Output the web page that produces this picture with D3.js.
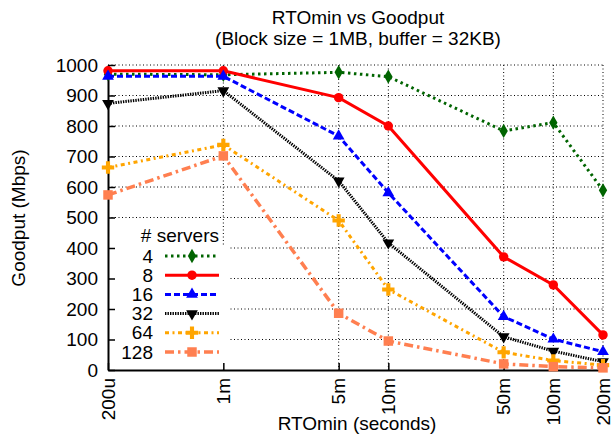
<!DOCTYPE html>
<html>
<head>
<meta charset="utf-8">
<script src="https://d3js.org/d3.v7.min.js"></script>
<style>
  body { margin: 0; background: #fff; }
  text { font-family: "Liberation Sans", Arial, Helvetica, sans-serif; fill: #000; }
</style>
</head>
<body>
<script>
// data
const xLabels = ["200u", "1m", "5m", "10m", "50m", "100m", "200m"];
const xValues = [0.0002, 0.001, 0.005, 0.01, 0.05, 0.1, 0.2];
const yTicks = [0, 100, 200, 300, 400, 500, 600, 700, 800, 900, 1000];
const serverLabels = ["4", "8", "16", "32", "64", "128"];

const goodput4 = [970, 968, 976, 962, 784, 811, 589];
const goodput8 = [981, 981, 893, 800, 371, 279, 115];
const goodput16 = [963, 963, 767, 581, 175, 101, 60];
const goodput32 = [874, 916, 620, 417, 109, 62, 27];
const goodput64 = [664, 738, 490, 264, 58, 31, 16];
const goodput128 = [574, 702, 186, 95, 20, 11, 7];

// globals
let width = 613;
let height = 434;
let mLeft = 108, mRight = 603, mTop = 65, mBottom = 370;
let fs = 19;

let series = [
  { name: serverLabels[0], values: goodput4, color: "#006400", dash: "2.5,3.5", sw: 3, shape: d3.symbolDiamond, size: 60, rot: 0 },
  { name: serverLabels[1], values: goodput8, color: "#ff0000", dash: null, sw: 3, shape: d3.symbolCircle, size: 70, rot: 0 },
  { name: serverLabels[2], values: goodput16, color: "#0000ff", dash: "6,3", sw: 3, shape: d3.symbolTriangle, size: 60, rot: 0 },
  { name: serverLabels[3], values: goodput32, color: "#000000", dash: "1.4,1.1", sw: 3, shape: d3.symbolTriangle, size: 60, rot: 180 },
  { name: serverLabels[4], values: goodput64, color: "#ffa500", dash: "4,3.5,2,3.5", sw: 3, shape: d3.symbolCross, size: 85, rot: 0 },
  { name: serverLabels[5], values: goodput128, color: "#ff7f50", dash: "9,4,2.5,4", sw: 3.5, shape: d3.symbolSquare, size: 90, rot: 0 }
];

let x = d3.scaleLog().domain([0.0002, 0.2]).range([mLeft, mRight]);
let y = d3.scaleLinear().domain([0, 1000]).range([mBottom, mTop]);

let svg = d3.select("body").append("svg")
  .attr("width", width)
  .attr("height", height);

// grid
let grid = svg.append("g")
  .attr("stroke", "#000")
  .attr("stroke-width", 1)
  .attr("stroke-dasharray", "1,2.5");

grid.selectAll(".hgrid")
  .data(yTicks.filter(d => d > 0))
  .enter().append("line")
  .attr("x1", mLeft).attr("x2", mRight)
  .attr("y1", d => y(d)).attr("y2", d => y(d));

grid.selectAll(".vgrid")
  .data(xValues.slice(1))
  .enter().append("line")
  .attr("x1", d => x(d)).attr("x2", d => x(d))
  .attr("y1", mTop).attr("y2", mBottom);

// legend background hides the grid
svg.append("rect")
  .attr("x", mLeft + 1).attr("y", 246)
  .attr("width", 120).attr("height", mBottom - 247)
  .attr("fill", "#fff");

// axes
let xAxis = g => g
  .attr("transform", `translate(0,${mBottom})`)
  .call(d3.axisBottom(x).tickValues(xValues).tickFormat((d, i) => xLabels[i]).tickSizeInner(-7).tickSizeOuter(0))
  .call(g => g.select(".domain").attr("stroke-width", 2))
  .call(g => g.selectAll(".tick line").attr("stroke-width", 1.5))
  .call(g => g.selectAll(".tick text")
    .attr("font-size", fs)
    .attr("transform", "rotate(-90)")
    .attr("text-anchor", "end")
    .attr("dy", "0.32em")
    .attr("y", 0)
    .attr("x", -8));

let yAxis = g => g
  .attr("transform", `translate(${mLeft},0)`)
  .call(d3.axisLeft(y).tickValues(yTicks).tickFormat(d3.format("d")).tickSizeInner(-7).tickSizeOuter(0).tickPadding(10))
  .call(g => g.select(".domain").attr("stroke-width", 2))
  .call(g => g.selectAll(".tick line").attr("stroke-width", 1.5))
  .call(g => g.selectAll(".tick text").attr("font-size", fs));

svg.append("g").call(xAxis);
svg.append("g").call(yAxis);

// lines and markers
let line = d3.line()
  .x((d, i) => x(xValues[i]))
  .y(d => y(d));

let plot = svg.append("g");

series.forEach(s => {
  plot.append("path")
    .datum(s.values)
    .attr("fill", "none")
    .attr("stroke", s.color)
    .attr("stroke-width", s.sw)
    .attr("stroke-dasharray", s.dash)
    .attr("d", line);

  plot.selectAll(null)
    .data(s.values)
    .enter().append("path")
    .attr("d", d3.symbol().type(s.shape).size(s.size))
    .attr("fill", s.color)
    .attr("transform", (d, i) => `translate(${x(xValues[i])},${y(d)}) rotate(${s.rot})`);
});

// legend
let legend = svg.append("g");
legend.append("text")
  .attr("x", 219).attr("y", 242)
  .attr("text-anchor", "end")
  .attr("font-size", fs)
  .text("# servers");

let entry = legend.selectAll(".entry")
  .data(series)
  .enter().append("g")
  .attr("transform", (d, i) => `translate(0,${256 + i * 19.2})`);

entry.append("text")
  .attr("x", 153).attr("y", 0)
  .attr("dy", "0.35em")
  .attr("text-anchor", "end")
  .attr("font-size", fs)
  .text(d => d.name);

entry.append("line")
  .attr("x1", 165).attr("x2", 219)
  .attr("stroke", d => d.color)
  .attr("stroke-width", d => d.sw)
  .attr("stroke-dasharray", d => d.dash);

entry.append("path")
  .attr("d", d => d3.symbol().type(d.shape).size(d.size)())
  .attr("fill", d => d.color)
  .attr("transform", d => `translate(192,0) rotate(${d.rot})`);

// titles
svg.append("text")
  .attr("x", 358).attr("y", 24)
  .attr("text-anchor", "middle")
  .attr("font-size", fs)
  .text("RTOmin vs Goodput");
svg.append("text")
  .attr("x", 358).attr("y", 45)
  .attr("text-anchor", "middle")
  .attr("font-size", fs)
  .text("(Block size = 1MB, buffer = 32KB)");

svg.append("text")
  .attr("x", 357).attr("y", 430)
  .attr("text-anchor", "middle")
  .attr("font-size", fs)
  .text("RTOmin (seconds)");

svg.append("text")
  .attr("transform", "translate(25,218) rotate(-90)")
  .attr("text-anchor", "middle")
  .attr("font-size", fs)
  .text("Goodput (Mbps)");
</script>
</body>
</html>
